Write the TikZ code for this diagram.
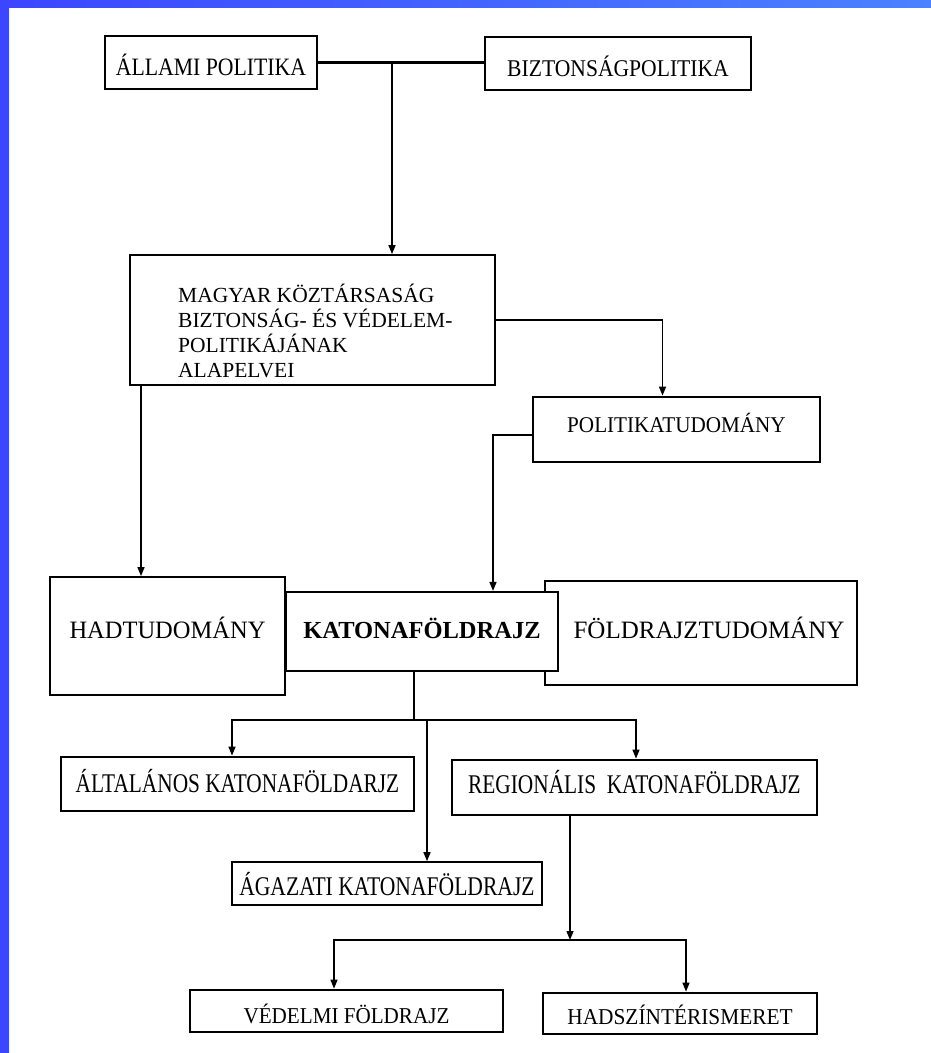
\documentclass[tikz,border=0pt]{standalone}
\usepackage{fontspec}
\setmainfont{Liberation Serif}
\usetikzlibrary{arrows.meta}
\newcommand\scanfont[2]{\fontsize{#1}{#1}\selectfont\addfontfeatures{FakeStretch=#2}}
\definecolor{slideblue}{HTML}{3C46FF}
\definecolor{slidesky}{HTML}{4A82FF}

\begin{document}
\begin{tikzpicture}[x=1pt, y=-1pt,
  box/.style={draw, line width=1.8pt, fill=white, inner sep=0pt},
  heavy/.style={box, line width=2.8pt},
  lift/.style={text height=#1pt, text depth=0pt},
  link/.style={line width=1.4pt},
  arr/.style={link, -{Triangle[length=9pt,width=7pt]}}]
\useasboundingbox (0,0) rectangle (931,1053);
\fill[white] (0,0) rectangle (931,1053);
% slide frame
\fill[left color=slideblue, right color=slidesky] (0,0) rectangle (931,7);
\fill[slideblue] (0,0) rectangle (8.5,1053);

% top row
\node[box, minimum width=212pt, minimum height=53pt, lift=25, font=\scanfont{25}{0.87}] (allami) at (211,62.5) {ÁLLAMI POLITIKA};
\node[box, minimum width=266pt, minimum height=53pt, lift=25, font=\scanfont{24}{0.9}] (bizt) at (618,63.5) {BIZTONSÁGPOLITIKA};

\node[box, minimum width=365pt, minimum height=130pt] (magyar) at (312.5,320) {};
\node[anchor=north west, inner sep=0pt, align=left, font=\fontsize{21.5}{25}\selectfont] (magyartext) at (178,284)
  {MAGYAR KÖZTÁRSASÁG\\BIZTONSÁG- ÉS VÉDELEM-\\POLITIKÁJÁNAK\\ALAPELVEI};
\node[heavy, minimum width=287pt, minimum height=65pt, lift=5, font=\scanfont{22.5}{0.94}] (polit) at (676.5,429.5) {POLITIKATUDOMÁNY};

% middle row
\node[box, minimum width=235pt, minimum height=118pt, lift=4, font=\scanfont{25}{0.98}] (had) at (167.5,636) {HADTUDOMÁNY};
\node[box, minimum width=312pt, minimum height=104pt, lift=11, font=\scanfont{25}{1}] (fold) at (701,633) {\hspace*{16pt}FÖLDRAJZTUDOMÁNY};
\node[box, line width=2.2pt, minimum width=272pt, minimum height=79pt, lift=13, font=\bfseries\scanfont{24.5}{1}] (katona) at (422,631.5) {KATONAFÖLDRAJZ};

% branches
\node[heavy, minimum width=353pt, minimum height=54pt, lift=16, font=\scanfont{27}{0.79}] (alt) at (237.5,784) {ÁLTALÁNOS KATONAFÖLDARJZ};
\node[heavy, minimum width=365pt, minimum height=55pt, lift=11, font=\scanfont{27}{0.79}] (reg) at (634.5,787.5) {REGIONÁLIS\ \ KATONAFÖLDRAJZ};
\node[box, line width=1.6pt, minimum width=310pt, minimum height=43pt, lift=23, font=\scanfont{27}{0.8}] (agaz) at (387,883.5) {ÁGAZATI KATONAFÖLDRAJZ};
\node[heavy, minimum width=313pt, minimum height=42pt, lift=24, font=\scanfont{22.7}{0.93}] (ved) at (346.5,1011) {VÉDELMI FÖLDRAJZ};
\node[heavy, minimum width=274pt, minimum height=41pt, lift=21, font=\scanfont{22.7}{0.94}] (hadsz) at (680,1013.5) {HADSZÍNTÉRISMERET};

% connectors
\coordinate (top) at (392,63);
\coordinate (fork) at (414,720);
\coordinate (fork2) at (570,940);
\draw[link, line width=2.6pt] (allami.east) -- (allami.east -| bizt.west);
\draw[arr] (top) -- (top |- magyar.north);
\draw[arr] (magyar.east) -| ([xshift=-14pt]polit.north);
\draw[arr] ([yshift=-5.5pt]polit.west) -| ([xshift=71pt]katona.north);
\draw[arr] ([xshift=-26.5pt]had.north |- magyar.south) -- ([xshift=-26.5pt]had.north);
\draw[link] ([xshift=-8pt]katona.south) -- (fork);
\draw[arr] (fork) -| ([xshift=-5.5pt]alt.north);
\draw[arr] (fork) -| ([xshift=1.5pt]reg.north);
\draw[arr] ([xshift=40pt]agaz.north |- fork) -- ([xshift=40pt]agaz.north);
\draw[arr] (reg.south -| fork2) -- (fork2);
\draw[arr] (fork2) -| ([xshift=-12.5pt]ved.north);
\draw[arr] (fork2) -| ([xshift=6pt]hadsz.north);
\end{tikzpicture}
\end{document}
